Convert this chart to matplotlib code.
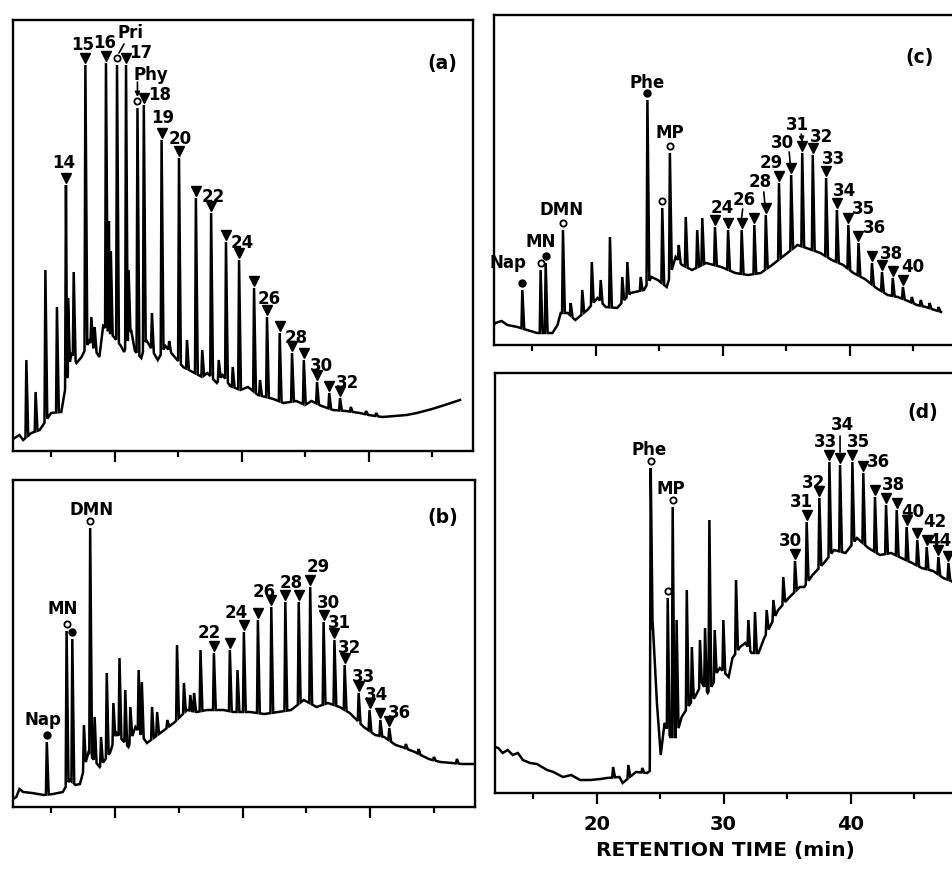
import numpy as np
import matplotlib
matplotlib.use('Agg')
import matplotlib.pyplot as plt
from matplotlib.transforms import offset_copy

plt.rcParams['font.family'] = ['DejaVu Sans']
plt.rcParams['font.weight'] = 'bold'

XMAX = 12 + 460 / 12.7  # retention time at right edge (min)

# ---------------- (a) ----------------
A_BASE_T = [12.0, 12.13, 12.5, 12.8, 13.45, 14.1, 15.0, 15.8, 16.6, 17.0, 17.4, 18.0, 18.8, 19.1, 19.95, 20.5, 20.75,
            21.3, 21.6, 22.1, 22.5, 23.4, 24.0, 24.6, 25.4, 26.0, 26.9, 27.3, 28.05, 28.5, 29.1, 29.9, 30.5, 31.3,
            32.5, 33.3, 34.3, 35.0, 35.5, 36.3, 37.2, 38.2, 39.3, 40.0, 41.1, 42.0, 43.0, 43.8, 45.0, 46.0, 47.2]
A_BASE_H = [12, 13, 16, 11, 18, 21, 38, 39, 98, 88, 94, 110, 94, 125, 114, 105, 99, 121, 100, 93, 111, 91, 105, 96,
            84, 80, 74, 78, 68, 76, 65, 61, 64, 56, 52, 48, 50, 46, 50, 45, 41, 40, 38, 36, 34, 35, 36, 38, 42, 46, 51]
A_ALK_N = list(range(14, 33))
A_ALK_T = [16.17, 17.7, 19.32, 20.9, 22.3, 23.7, 25.07, 26.4, 27.6, 28.77, 29.8, 30.98, 32.0, 33.0, 33.97, 34.9,
           35.94, 36.9, 37.75]
A_ALK_H = [266, 386, 388, 386, 346, 311, 293, 253, 238, 209, 191, 163, 134, 118, 98, 91, 69, 58, 53]
A_MINOR_T = [13.05, 13.78, 14.55, 15.46, 16.33, 16.78, 18.17, 18.43, 19.55, 19.7, 21.1, 22.94, 24.3, 25.7, 26.9,
             28.2, 29.3, 31.45, 38.6, 39.8, 40.6]
A_MINOR_H = [91, 59, 181, 144, 153, 179, 134, 124, 230, 200, 181, 138, 110, 111, 101, 91, 84, 71, 44, 40, 38]
A_NAMED = [('Pri', 20.19, 386, 'open', 13, 32), ('Phy', 21.8, 343, 'open', 13, 33)]
A_TAGS = {14: (-2, 22), 15: (-3, 20), 16: (-1, 20), 17: (15, 12), 18: (16, 10), 19: (1, 22), 20: (1, 19),
          22: (2, 16), 24: (3, 17), 26: (2, 18), 28: (4, 15), 30: (4, 16), 32: (7, 15)}
A_LEADERS = [(20.19, (7, 21), (2, 12), False), (21.8, (0, 26), (0, 11), True)]

# ---------------- (b) ----------------
B_BASE_T = [12.0, 12.26, 12.5, 12.8, 13.5, 14.4, 15.15, 15.9, 16.45, 16.9, 17.25, 17.9, 18.8, 19.6, 20.1, 21.05,
            21.6, 22.5, 23.55, 24.6, 25.65, 26.4, 27.2, 28.5, 29.3, 30.6, 31.7, 32.8, 33.8, 34.8, 35.8, 36.7, 37.6,
            38.4, 39.5, 40.4, 41.1, 42.0, 42.5, 43.5, 44.6, 45.5, 46.5, 47.2, 48.3]
B_BASE_H = [8, 10, 18, 15, 14, 12, 13, 15, 27, 22, 23, 54, 40, 54, 74, 60, 80, 64, 74, 84, 97, 95, 97, 97, 95, 95,
            93, 95, 97, 107, 100, 104, 100, 94, 80, 72, 70, 62, 60, 55, 48, 45, 44, 43, 43]
B_ALK_N = list(range(22, 37))
B_ALK_T = [27.75, 29.0, 30.1, 31.2, 32.25, 33.35, 34.4, 35.3, 36.35, 37.2, 38.0, 39.1, 39.95, 40.8, 41.5]
B_ALK_H = [154, 157, 175, 187, 200, 205, 205, 220, 185, 167, 142, 114, 97, 87, 79]
B_MINOR_T = [17.56, 18.4, 18.9, 19.35, 19.87, 20.35, 20.8, 21.2, 21.85, 22.1, 22.9, 23.3, 24.1, 24.86, 25.4, 25.9,
             26.2, 26.7, 29.6, 42.8, 43.8, 45.0, 46.8]
B_MINOR_H = [82, 90, 70, 134, 104, 149, 117, 100, 137, 125, 100, 95, 87, 162, 124, 112, 114, 157, 137, 63, 58, 50, 48]
B_NAMED = [('Nap', 14.65, 65, 'filled', -4, 22), ('MN', 16.2, 176, 'open', -4, 22), ('', 16.65, 168, 'filled', 0, 0),
           ('DMN', 18.05, 279, 'open', 1, 18)]
B_TAGS = {22: (-5, 20), 24: (-8, 19), 26: (-7, 15), 28: (-8, 19), 29: (8, 20), 30: (5, 19), 31: (5, 17),
          32: (5, 17), 33: (5, 16), 34: (7, 15), 36: (10, 15)}
B_LEADERS = []

# ---------------- (c) ----------------
C_BASE_T = [12.0, 12.1, 12.6, 13.05, 13.85, 14.6, 15.4, 16.6, 17.0, 17.25, 17.8, 18.4, 19.35, 20.15, 20.8, 21.7,
            22.75, 23.8, 24.4, 24.9, 25.6, 26.3, 26.8, 27.6, 28.7, 29.9, 31.0, 32.0, 33.0, 33.9, 34.9, 35.9, 36.6,
            37.7, 38.6, 39.5, 40.3, 41.2, 42.1, 43.0, 43.8, 44.6, 45.3, 46.0, 46.7, 47.2]
C_BASE_H = [20, 22, 24, 20, 18, 15, 12, 12, 20, 32, 32, 25, 35, 47, 38, 37, 52, 55, 68, 65, 58, 88, 80, 75, 82, 78,
            72, 70, 72, 80, 90, 100, 97, 92, 85, 80, 72, 66, 57, 50, 48, 44, 40, 38, 35, 33]
C_ALK_N = list(range(24, 41))
C_ALK_T = [29.4, 30.43, 31.5, 32.5, 33.4, 34.44, 35.4, 36.27, 37.1, 38.15, 39.0, 39.9, 40.7, 41.76, 42.55, 43.4, 44.2]
C_ALK_H = [118, 115, 115, 120, 130, 162, 170, 192, 190, 167, 135, 120, 102, 82, 73, 67, 58]
C_MINOR_T = [18.04, 18.95, 19.7, 20.4, 21.13, 22.1, 22.5, 23.55, 26.55, 27.1, 28.0, 28.4, 44.9, 45.6, 46.3, 47.0]
C_MINOR_H = [42, 55, 83, 65, 108, 68, 83, 68, 100, 128, 115, 127, 48, 45, 42, 38]
C_NAMED = [('Nap', 14.23, 55, 'filled', -14, 27), ('MN', 15.67, 75, 'open', 0, 28), ('', 16.07, 82, 'filled', 0, 0),
           ('DMN', 17.43, 115, 'open', -1, 20), ('Phe', 24.08, 245, 'filled', 0, 17), ('', 25.25, 137, 'open', 0, 0),
           ('MP', 25.85, 192, 'open', 0, 20)]
C_TAGS = {24: (7, 19), 26: (3, 30), 28: (-6, 33), 29: (-8, 20), 30: (-9, 32), 31: (-5, 28), 32: (9, 18),
          33: (7, 19), 34: (8, 19), 35: (15, 16), 36: (16, 15), 38: (9, 18), 40: (10, 20)}
C_LEADERS = [(31.5, (1, 21), (0, 12), False), (33.4, (-2, 23), (-1, 12), False),
             (35.4, (-2, 23), (-1, 12), False), (36.27, (-1, 19), (0, 11), True)]

# ---------------- (d) ----------------
D_BASE_T = [12.0, 12.26, 12.6, 13.0, 13.4, 13.8, 14.2, 14.76, 15.3, 16.1, 16.6, 17.35, 18.0, 18.7, 19.5, 20.3, 20.8,
            21.8, 22.05, 23.1, 24.0, 24.18, 24.42, 24.75, 25.05, 25.35, 25.8, 26.25, 26.7, 27.4, 27.75, 28.3, 28.75,
            29.2, 29.45, 29.7, 30.4, 30.7, 31.3, 31.7, 32.2, 32.75, 33.2, 33.6, 34.3, 35.2, 36.0, 36.35, 37.0, 37.9,
            38.7, 39.6, 40.5, 41.4, 42.3, 43.2, 44.0, 44.85, 45.6, 46.5, 47.3, 48.3]
D_BASE_H = [46, 45, 40, 43, 38, 40, 33, 30, 29, 23, 21, 16, 18, 13, 13, 14, 15, 16, 10, 21, 20, 22, 170, 90, 38, 70,
            56, 56, 76, 90, 96, 110, 100, 110, 120, 125, 116, 135, 146, 150, 140, 140, 155, 165, 183, 196, 206, 206,
            218, 230, 243, 240, 255, 245, 238, 240, 235, 230, 225, 222, 215, 210]
D_ALK_N = list(range(30, 45))
D_ALK_T = [35.62, 36.54, 37.54, 38.33, 39.17, 40.14, 41.0, 41.92, 42.79, 43.63, 44.41, 45.25, 45.99, 46.91, 47.7]
D_ALK_H = [232, 271, 295, 331, 328, 331, 320, 296, 288, 283, 266, 253, 246, 236, 230]
D_MINOR_T = [21.3, 22.5, 23.6, 26.3, 27.1, 27.5, 28.14, 28.54, 28.88, 29.3, 29.98, 30.98, 31.95, 32.47, 33.39,
             33.92, 34.7]
D_MINOR_H = [26, 28, 25, 173, 203, 146, 153, 165, 273, 163, 173, 213, 173, 181, 183, 193, 216]
D_NAMED = [('Phe', 24.26, 325, 'open', -2, 18), ('', 25.6, 195, 'open', 0, 0), ('MP', 25.99, 286, 'open', -2, 18)]
D_TAGS = {30: (-5, 20), 31: (-5, 20), 32: (-6, 15), 33: (-4, 20), 34: (2, 40), 35: (6, 20), 36: (15, 11),
          38: (7, 20), 40: (6, 15), 42: (8, 25), 44: (-9, 22)}
D_LEADERS = [(39.17, (0, 29), (0, 13), False)]


def build_trace(base_t, base_h, peak_t, peak_h, left=0.07, right=0.15):
    base_t = np.asarray(base_t, float)
    base_h = np.asarray(base_h, float)
    keep = np.ones(len(base_t), dtype=bool)
    for t in peak_t:
        keep &= ~((base_t > t - left) & (base_t < t + right))
    xs = list(base_t[keep])
    ys = list(base_h[keep])
    for t, h in zip(peak_t, peak_h):
        xs += [t - left, t, t + right]
        ys += [np.interp(t - left, base_t, base_h), h, np.interp(t + right, base_t, base_h)]
    order = np.argsort(xs, kind='stable')
    return np.asarray(xs)[order], np.asarray(ys)[order]


def style_axes(ax, ymax, show_labels=False):
    ax.set_xlim(12, XMAX)
    ax.set_ylim(0, ymax)
    ax.set_yticks([])
    ax.set_xticks([20, 30, 40])
    ax.set_xticks([15, 25, 35, 45], minor=True)
    ax.tick_params(axis='x', which='major', direction='out', length=8, width=1.6, pad=8,
                   labelsize=14, labelbottom=show_labels)
    ax.tick_params(axis='x', which='minor', direction='out', length=4, width=1.6)
    for s in ax.spines.values():
        s.set_linewidth(1.7)


def marker(fig, ax, t, h, kind):
    tr = offset_copy(ax.transData, fig=fig, x=0, y=7, units='dots')
    if kind == 'v':
        ax.plot(t, h, 'v', ms=6.5, color='k', transform=tr, clip_on=False)
    elif kind == 'open':
        ax.plot(t, h, 'o', ms=4.5, mfc='white', mec='k', mew=1.3, transform=tr, clip_on=False)
    else:
        ax.plot(t, h, 'o', ms=5, color='k', transform=tr, clip_on=False)


def label(ax, text, t, h, dx, dy):
    ax.annotate(text, (t, h), xytext=(dx, dy), textcoords='offset pixels', ha='center', va='center',
                fontsize=12, fontweight='bold', annotation_clip=False)


def leader(ax, t, h, p0, p1, arrow):
    x, y = ax.transData.transform((t, h))
    ax.annotate('', xy=(x + p1[0], y + p1[1]), xytext=(x + p0[0], y + p0[1]),
                xycoords='figure pixels', textcoords='figure pixels',
                arrowprops=dict(arrowstyle='-|>' if arrow else '-', lw=1.2, color='k',
                                shrinkA=0, shrinkB=0, mutation_scale=7))


def draw_panel(fig, ax, ymax, base_t, base_h, alk_n, alk_t, alk_h, minor_t, minor_h, named, tags, leaders,
               tag, tag_xy, show_labels=False):
    style_axes(ax, ymax, show_labels)
    peak_t = list(alk_t) + [n[1] for n in named] + list(minor_t)
    peak_h = list(alk_h) + [n[2] for n in named] + list(minor_h)
    xs, ys = build_trace(base_t, base_h, peak_t, peak_h)
    ax.plot(xs, ys, color='k', lw=1.8, solid_joinstyle='miter')
    heights = dict(zip(peak_t, peak_h))

    for n, t, h in zip(alk_n, alk_t, alk_h):
        marker(fig, ax, t, h, 'v')
        if n in tags:
            label(ax, str(n), t, h, *tags[n])
    for name, t, h, kind, dx, dy in named:
        marker(fig, ax, t, h, kind)
        if name:
            label(ax, name, t, h, dx, dy)
    for t, p0, p1, arrow in leaders:
        leader(ax, t, heights[t], p0, p1, arrow)

    ax.text(tag_xy[0], tag_xy[1], tag, transform=ax.transAxes, ha='center', va='center',
            fontsize=13.5, fontweight='bold')


if __name__ == '__main__':
    fig = plt.figure(figsize=(9.52, 8.8), dpi=100)

    def add_ax(left, top, w, h):
        return fig.add_axes([left / 952, 1 - (top + h) / 880, w / 952, h / 880])

    ax_a = add_ax(13, 20, 460, 431)
    ax_b = add_ax(13, 480, 462, 327)
    ax_c = add_ax(494, 15, 460, 330)
    ax_d = add_ax(495, 373, 460, 420)

    draw_panel(fig, ax_a, 431, A_BASE_T, A_BASE_H, A_ALK_N, A_ALK_T, A_ALK_H, A_MINOR_T, A_MINOR_H,
               A_NAMED, A_TAGS, A_LEADERS, '(a)', (0.933, 0.900))
    draw_panel(fig, ax_b, 327, B_BASE_T, B_BASE_H, B_ALK_N, B_ALK_T, B_ALK_H, B_MINOR_T, B_MINOR_H,
               B_NAMED, B_TAGS, B_LEADERS, '(b)', (0.931, 0.884))
    draw_panel(fig, ax_c, 330, C_BASE_T, C_BASE_H, C_ALK_N, C_ALK_T, C_ALK_H, C_MINOR_T, C_MINOR_H,
               C_NAMED, C_TAGS, C_LEADERS, '(c)', (0.926, 0.870))
    draw_panel(fig, ax_d, 420, D_BASE_T, D_BASE_H, D_ALK_N, D_ALK_T, D_ALK_H, D_MINOR_T, D_MINOR_H,
               D_NAMED, D_TAGS, D_LEADERS, '(d)', (0.930, 0.907), show_labels=True)
    ax_d.set_xlabel('RETENTION TIME (min)', fontsize=14.5, fontweight='bold', labelpad=5)

    fig.savefig('out.png', dpi=100)
